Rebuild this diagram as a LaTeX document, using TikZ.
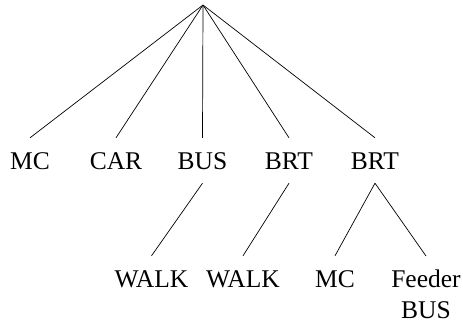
\documentclass[tikz,border=0pt]{standalone}
\usepackage{fontspec}
\setmainfont{Liberation Serif}
\begin{document}
\begin{tikzpicture}[x=1pt,y=-1pt,
  label/.style={inner xsep=0pt,inner ysep=14pt,text height=17pt,text depth=0pt,anchor=base,
    font=\fontsize{25.5}{31}\selectfont},
  multilabel/.style={inner xsep=0pt,inner ysep=14pt,anchor=north,align=center,
    font=\fontsize{25.5}{31}\selectfont},
  branch/.style={line width=0.7pt}]
\useasboundingbox (0,0) rectangle (463,325);
\coordinate (root) at (203,5);
% first level
\node[label] (mc)   at (30,169)  {MC};
\node[label] (car)  at (116,169) {CAR};
\node[label] (bus)  at (202.5,169) {BUS};
\node[label] (brtA) at (289,169) {BRT};
\node[label] (brtB) at (375,169) {BRT};
% second level
\node[label] (walkA) at (151.5,287) {WALK};
\node[label] (walkB) at (243,287)   {WALK};
\node[label] (mcB)   at (335,287)   {MC};
\node[multilabel] (feeder) at (426,256) {Feeder\\BUS};
% connectors
\foreach \n in {mc,car,bus,brtA,brtB}
  \draw[branch] (root) -- (\n.north);
\draw[branch] (bus.south) -- (walkA.north);
\draw[branch] (brtA.south) -- (walkB.north);
\draw[branch] (brtB.south) -- (mcB.north);
\draw[branch] (brtB.south) -- (feeder.north);
\end{tikzpicture}
\end{document}
